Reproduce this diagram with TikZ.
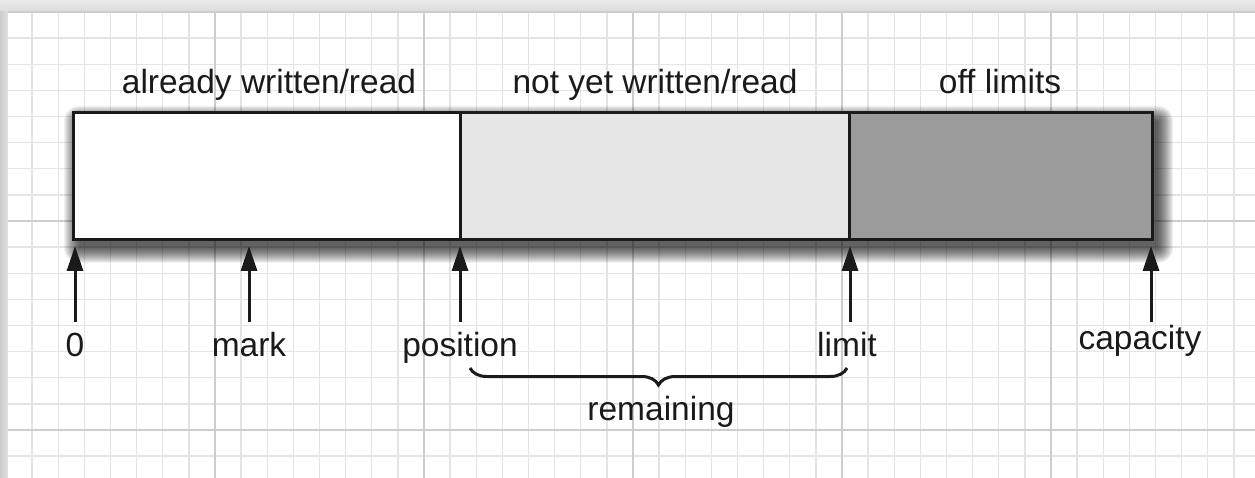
\documentclass[tikz,border=0pt]{standalone}
\usepackage{fontspec}
\setmainfont{Liberation Sans}
\usetikzlibrary{arrows.meta,decorations.pathreplacing,calc}
\definecolor{minorgrid}{HTML}{E4E4E4}
\definecolor{majorgrid}{HTML}{CDCDCD}
\definecolor{lightcell}{HTML}{E6E6E6}
\definecolor{darkcell}{HTML}{9B9B9B}
\definecolor{pageedge}{HTML}{E2E2E2}
\definecolor{inkc}{HTML}{1A1A1A}
\begin{document}
\begin{tikzpicture}[x=1pt,y=-1pt,
  minorline/.style={draw=minorgrid,line width=1.3pt},
  majorline/.style={draw=majorgrid,line width=1.5pt},
  cell/.style={draw=inkc,line width=3pt,minimum height=127pt,inner sep=0pt,outer sep=0pt},
  lbl/.style={font=\fontsize{33.5}{38}\selectfont,text=inkc,inner sep=0pt,outer sep=0pt,text height=23pt,text depth=7pt},
  ptr/.style={draw=inkc,line width=3pt,-{Triangle[length=25pt,width=16pt]}},
  bracestyle/.style={draw=inkc,line width=3pt,decorate,decoration={brace,mirror,amplitude=17pt}},
  shadowlayer/.style={fill=black,opacity=0.055}
]
\useasboundingbox (0,0) rectangle (1255,478);
% page background
\fill[pageedge] (0,0) rectangle (1255,478);
\shade[top color=white!92!black,bottom color=white!86!black] (0,0) rectangle (1255,12);
\shade[left color=white!80!black,right color=white!88!black] (0,12) rectangle (8,478);
\fill[white] (8,12) rectangle (1255,478);
% grid
\foreach \i in {1,...,47}{\draw[minorline] ({6+26.125*\i},12) -- ({6+26.125*\i},478);}
\foreach \j in {1,...,17}{\draw[minorline] (8,{12+26.125*\j}) -- (1255,{12+26.125*\j});}
\foreach \i in {8,16,24,32,40}{\draw[majorline] ({6+26.125*\i},12) -- ({6+26.125*\i},478);}
\foreach \j in {8,16}{\draw[majorline] (8,{12+26.125*\j}) -- (1255,{12+26.125*\j});}
\draw[majorgrid,line width=1.5pt] (8,12) -- (1255,12);
% soft shadow of the buffer
\foreach \k in {0,...,15}{
  \fill[shadowlayer,rounded corners={\k pt}] ({79-\k},{121-\k}) rectangle ({1158+\k},{248+\k});
}
% buffer cells
\node[cell,fill=white,minimum width=387pt] (written) at (266.5,176.5) {};
\node[cell,fill=lightcell,minimum width=389pt] (notyet) at (654.5,176.5) {};
\node[cell,fill=darkcell,minimum width=303pt] (offlim) at (1000.5,176.5) {};
% top labels
\node[lbl,anchor=base] (t1) at (269,94) {already written/read};
\node[lbl,anchor=base] (t2) at (655,94) {not yet written/read};
\node[lbl,anchor=base] (t3) at (1000,94) {off limits};
% arrow tips
\coordinate (a0) at (75,246);
\coordinate (a1) at (249,246);
\coordinate (a2) at (460,246);
\coordinate (a3) at (850,246);
\coordinate (a4) at (1151,246);
% bottom labels
\node[lbl,anchor=base] (l0) at (75,356) {0};
\node[lbl,anchor=base] (l1) at (249,356) {mark};
\node[lbl,anchor=base] (l2) at (460,356) {position};
\node[lbl,anchor=base] (l3) at (847,356) {limit};
\node[lbl,anchor=base] (l4) at (1140,349) {capacity};
\draw[ptr] ([yshift=11pt]l0.north -| a0) -- (a0);
\draw[ptr] ([yshift=11pt]l1.north -| a1) -- (a1);
\draw[ptr] ([yshift=11pt]l2.north -| a2) -- (a2);
\draw[ptr] ([yshift=11pt]l3.north -| a3) -- (a3);
\draw[ptr] ([yshift=4pt]l4.north -| a4) -- (a4);
% brace
\coordinate (bl) at (470,368);
\coordinate (br) at (847,368);
\draw[bracestyle] (bl) -- (br);
\node[lbl,anchor=base] (rem) at (661,420) {remaining};
\end{tikzpicture}
\end{document}
